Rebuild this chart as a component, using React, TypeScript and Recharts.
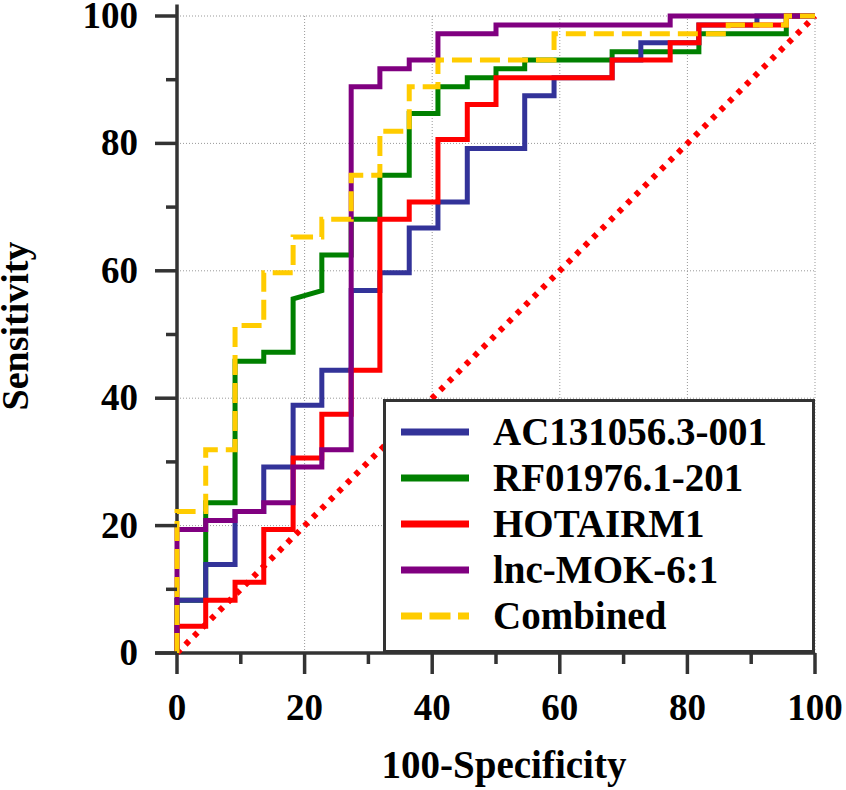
import {
  LineChart,
  Line,
  XAxis,
  YAxis,
  CartesianGrid,
  ReferenceLine,
  Legend,
} from "recharts";

// ROC curves, [100-specificity, sensitivity] corners
const AC131056 = [
  [0, 0], [0, 8.3], [4.5, 8.3], [4.5, 13.9], [9.1, 13.9], [9.1, 22.2],
  [13.6, 22.2], [13.6, 29.2], [18.2, 29.2], [18.2, 38.9], [22.7, 38.9],
  [22.7, 44.4], [27.3, 44.4], [27.3, 56.9], [31.8, 56.9], [31.8, 59.7],
  [36.4, 59.7], [36.4, 66.7], [40.9, 66.7], [40.9, 70.8], [45.5, 70.8],
  [45.5, 79.2], [54.5, 79.2], [54.5, 87.5], [59.1, 87.5], [59.1, 90.3],
  [68.2, 90.3], [68.2, 93.1], [72.7, 93.1], [72.7, 95.8], [81.8, 95.8],
  [81.8, 98.6], [90.9, 98.6], [90.9, 100], [100, 100],
];

const RF01976 = [
  [0, 0], [0, 8.3], [4.5, 8.3], [4.5, 23.6], [9.1, 23.6], [9.1, 45.8],
  [13.6, 45.8], [13.6, 47.2], [18.2, 47.2], [18.2, 55.6], [22.7, 56.9],
  [22.7, 62.5], [27.3, 62.5], [27.3, 68.1], [31.8, 68.1], [31.8, 75],
  [36.4, 75], [36.4, 84.7], [40.9, 84.7], [40.9, 88.9], [45.5, 88.9],
  [45.5, 90.3], [50, 90.3], [50, 91.7], [54.5, 91.7], [54.5, 93.1],
  [68.2, 93.1], [68.2, 94.4], [81.8, 94.4], [81.8, 97.2], [95.5, 97.2],
  [95.5, 100], [100, 100],
];

const HOTAIRM1 = [
  [0, 0], [0, 4.2], [4.5, 4.2], [4.5, 8.3], [9.1, 8.3], [9.1, 11.1],
  [13.6, 11.1], [13.6, 19.4], [18.2, 19.4], [18.2, 30.6], [22.7, 30.6],
  [22.7, 37.5], [27.3, 37.5], [27.3, 44.4], [31.8, 44.4], [31.8, 68.1],
  [36.4, 68.1], [36.4, 70.8], [40.9, 70.8], [40.9, 80.6], [45.5, 80.6],
  [45.5, 86.1], [50, 86.1], [50, 90.3], [68.2, 90.3], [68.2, 93.1],
  [77.3, 93.1], [77.3, 95.8], [81.8, 95.8], [81.8, 98.6], [95.5, 98.6],
  [95.5, 100], [100, 100],
];

const LNC_MOK = [
  [0, 0], [0, 19.4], [4.5, 19.4], [4.5, 20.8], [9.1, 20.8], [9.1, 22.2],
  [13.6, 22.2], [13.6, 23.6], [18.2, 23.6], [18.2, 29.2], [22.7, 29.2],
  [22.7, 31.9], [27.3, 31.9], [27.3, 88.9], [31.8, 88.9], [31.8, 91.7],
  [36.4, 91.7], [36.4, 93.1], [40.9, 93.1], [40.9, 97.2], [50, 97.2],
  [50, 98.6], [77.3, 98.6], [77.3, 100], [100, 100],
];

const COMBINED = [
  [0, 0], [0, 22.2], [4.5, 22.2], [4.5, 31.9], [9.1, 31.9], [9.1, 51.4],
  [13.6, 51.4], [13.6, 59.7], [18.2, 59.7], [18.2, 65.3], [22.7, 65.3],
  [22.7, 68.1], [27.3, 68.1], [27.3, 75], [31.8, 75], [31.8, 81.9],
  [36.4, 81.9], [36.4, 88.9], [40.9, 88.9], [40.9, 93.1], [59.1, 93.1],
  [59.1, 97.2], [86.4, 97.2], [86.4, 98.6], [95.5, 98.6], [95.5, 100],
  [100, 100],
];

const REFERENCE = [[0, 0], [100, 100]];

const TICKS = [0, 10, 20, 30, 40, 50, 60, 70, 80, 90, 100];
const GRID = [20, 40, 60, 80, 100];

const toPoints = (pts: number[][]) => pts.map(([x, y]) => ({ x, y }));

// legend order
const SERIES = [
  { name: "AC131056.3-001", data: AC131056, color: "#333399", dash: undefined },
  { name: "RF01976.1-201", data: RF01976, color: "#008000", dash: undefined },
  { name: "HOTAIRM1", data: HOTAIRM1, color: "#FF0000", dash: undefined },
  { name: "lnc-MOK-6:1", data: LNC_MOK, color: "#800080", dash: undefined },
  { name: "Combined", data: COMBINED, color: "#FFCC00", dash: "20 8" },
];
// painting order, bottom to top
const DRAW_ORDER = [1, 0, 2, 3, 4];

const FONT = '"Liberation Serif", "Times New Roman", serif';
const AXIS = "#333333";

const XTick = (props: any) => {
  const { x, y, payload } = props;
  const major = payload.value % 20 === 0;
  return (
    <g>
      <line x1={x} y1={y} x2={x} y2={y + (major ? 21 : 11)} stroke={AXIS} strokeWidth={3.5} />
      {major && (
        <text x={x} y={y + 67} textAnchor="middle" fontFamily={FONT} fontWeight="bold" fontSize={37} fill="#000">
          {payload.value}
        </text>
      )}
    </g>
  );
};

const YTick = (props: any) => {
  const { x, y, payload } = props;
  const major = payload.value % 20 === 0;
  return (
    <g>
      <line x1={x} y1={y} x2={x - (major ? 22 : 11)} y2={y} stroke={AXIS} strokeWidth={3.5} />
      {major && (
        <text x={x - 39} y={y + 12} textAnchor="end" fontFamily={FONT} fontWeight="bold" fontSize={37} fill="#000">
          {payload.value}
        </text>
      )}
    </g>
  );
};

const XTitle = () => (
  <text x={504} y={778} textAnchor="middle" fontFamily={FONT} fontWeight="bold" fontSize={39} fill="#000">
    100-Specificity
  </text>
);

const YTitle = () => (
  <text x={28} y={326} transform="rotate(-90 28 326)" textAnchor="middle" fontFamily={FONT} fontWeight="bold" fontSize={38} fill="#000">
    Sensitivity
  </text>
);

const RocLegend = () => (
  <div
    style={{
      position: "relative",
      width: 432,
      height: 254,
      boxSizing: "border-box",
      border: `3px solid ${AXIS}`,
      background: "#fff",
    }}
  >
    {SERIES.map((s, i) => (
      <div
        key={s.name}
        style={{
          position: "absolute",
          left: 15,
          top: 7 + i * 46,
          height: 46,
          display: "flex",
          alignItems: "center",
          whiteSpace: "nowrap",
        }}
      >
        <svg width={68} height={8} style={{ display: "block" }}>
          <line x1={0} y1={4} x2={68} y2={4} stroke={s.color} strokeWidth={7} strokeDasharray={s.dash ? "21 7.5" : undefined} />
        </svg>
        <span
          style={{
            marginLeft: 24,
            fontFamily: FONT,
            fontWeight: "bold",
            fontSize: 39,
            lineHeight: "46px",
            color: "#000",
          }}
        >
          {s.name}
        </span>
      </div>
    ))}
  </div>
);

export default function App() {
  return (
    <div style={{ width: 846, height: 790, background: "#fff" }}>
      <style>{"body{margin:0}"}</style>
      <LineChart width={846} height={790} margin={{ top: 16, right: 31, bottom: 0, left: 0 }}>
        <CartesianGrid
          horizontalValues={GRID}
          verticalValues={GRID}
          stroke="#999999"
          strokeDasharray="1 2"
        />
        <XAxis
          type="number"
          dataKey="x"
          domain={[0, 100]}
          ticks={TICKS}
          interval={0}
          height={137}
          axisLine={false}
          tickLine={false}
          tickSize={0}
          tickMargin={0}
          tick={<XTick />}
          label={<XTitle />}
        />
        <YAxis
          type="number"
          dataKey="y"
          domain={[0, 100]}
          ticks={TICKS}
          interval={0}
          width={177}
          axisLine={false}
          tickLine={false}
          tickSize={0}
          tickMargin={0}
          tick={<YTick />}
          label={<YTitle />}
        />
        <ReferenceLine
          segment={[{ x: -3.4, y: 0 }, { x: 100, y: 0 }]}
          stroke={AXIS}
          strokeWidth={3.5}
          ifOverflow="visible"
        />
        <ReferenceLine
          segment={[{ x: 0, y: 0 }, { x: 0, y: 101.8 }]}
          stroke={AXIS}
          strokeWidth={3.5}
          ifOverflow="visible"
        />
        <Line
          data={toPoints(REFERENCE)}
          dataKey="y"
          type="linear"
          stroke="#FF0000"
          strokeWidth={6}
          strokeDasharray="5 7"
          dot={false}
          activeDot={false}
          legendType="none"
          isAnimationActive={false}
        />
        {DRAW_ORDER.map((idx) => {
          const s = SERIES[idx];
          return (
            <Line
              key={s.name}
              name={s.name}
              data={toPoints(s.data)}
              dataKey="y"
              type="linear"
              stroke={s.color}
              strokeWidth={5}
              strokeDasharray={s.dash}
              strokeLinecap="butt"
              dot={false}
              activeDot={false}
              isAnimationActive={false}
            />
          );
        })}
        <Legend
          layout="vertical"
          align="center"
          verticalAlign="middle"
          content={<RocLegend />}
          wrapperStyle={{ position: "absolute", left: 383, top: 399, width: 432, height: 254 }}
        />
      </LineChart>
    </div>
  );
}
